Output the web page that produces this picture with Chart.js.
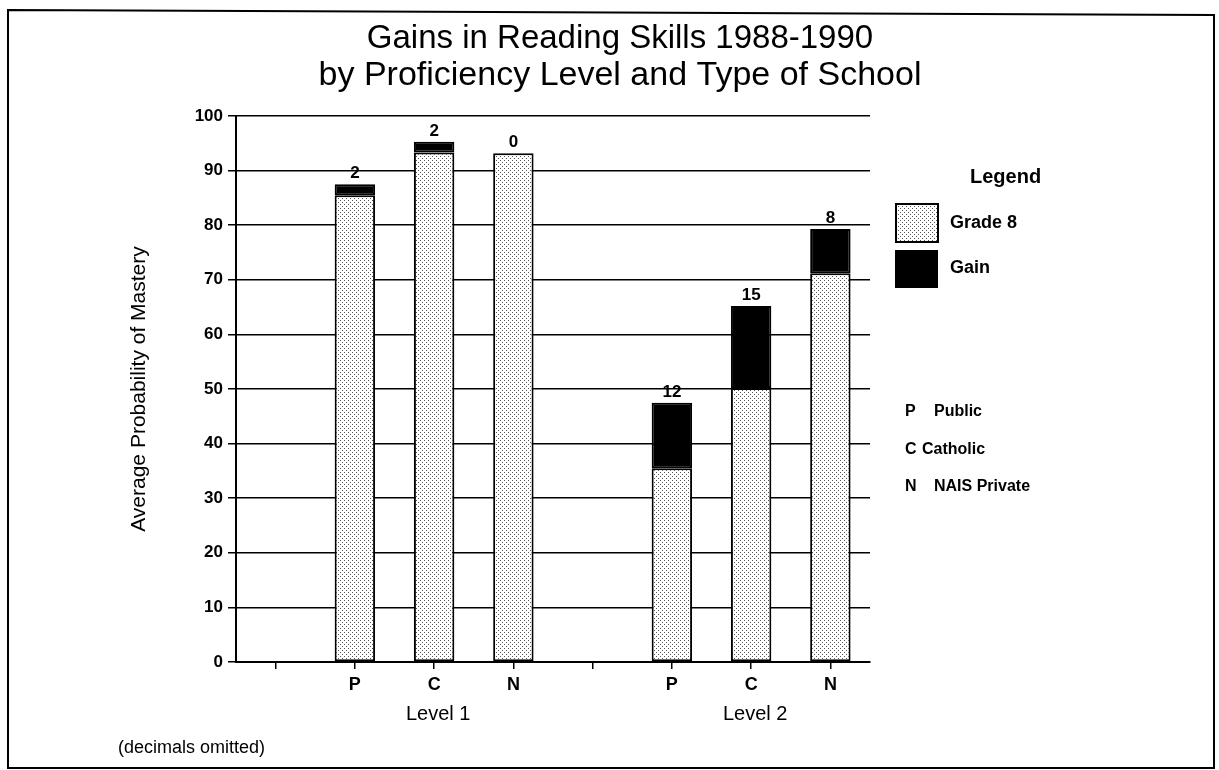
<!DOCTYPE html>
<html>
<head>
<meta charset="utf-8">
<script src="https://cdn.jsdelivr.net/npm/chart.js@4/dist/chart.umd.min.js"></script>
<style>
  html, body { margin: 0; background: #fff; }
</style>
</head>
<body>
<canvas id="chart" width="1219" height="770"></canvas>
<script>
// categories: two levels, each with an empty slot before it
const categories = ["", "P", "C", "N", "", "P", "C", "N"];
const levelNames = ["Level 1", "Level 2"];
const levelSlots = [2, 6];
const grade8 = [null, 85.5, 93.3, 93.2, null, 35.5, 50.2, 71.2];
const gain = [null, 2.0, 2.0, 0.0, null, 12.0, 15.0, 8.1];
const titleLines = ["Gains in Reading Skills 1988-1990", "by Proficiency Level and Type of School"];
const schoolKey = [["P", "Public"], ["C", "Catholic"], ["N", "NAIS Private"]];

const FONT = "'Liberation Sans', Arial, Helvetica, sans-serif";
const canvas = document.getElementById("chart");
const ctx = canvas.getContext("2d");

// stippled fill for the Grade 8 bars
function stipple() {
  const tile = document.createElement("canvas");
  tile.width = 4; tile.height = 4;
  const g = tile.getContext("2d");
  g.fillStyle = "#fff"; g.fillRect(0, 0, 4, 4);
  g.fillStyle = "#555";
  g.fillRect(0, 0, 1, 1); g.fillRect(2, 2, 1, 1);
  return ctx.createPattern(tile, "repeat");
}
const dots = stipple();

const extras = {
  id: "extras",
  beforeDraw(chart) {
    const c = chart.ctx;
    c.save();
    c.fillStyle = "#fff";
    c.fillRect(0, 0, chart.width, chart.height);
    // page frame
    c.strokeStyle = "#000"; c.lineWidth = 2;
    c.beginPath();
    c.moveTo(8, 10); c.lineTo(1214, 15); c.lineTo(1214, 768); c.lineTo(8, 768); c.closePath();
    c.stroke();
    c.restore();
  },
  afterDatasetsDraw(chart) {
    const c = chart.ctx;
    const x = chart.scales.x;
    const top = chart.getDatasetMeta(1).data;
    c.save();
    c.fillStyle = "#000";
    c.textAlign = "center";
    c.textBaseline = "alphabetic";
    c.font = "bold 17px " + FONT;
    gain.forEach((v, i) => {
      if (v === null) return;
      c.fillText(String(Math.round(v)), top[i].x, top[i].y - 6);
    });

    // title
    c.font = "33px " + FONT;
    c.textBaseline = "middle";
    c.fillText(titleLines[0], 620, 39);
    c.font = "34px " + FONT;
    c.fillText(titleLines[1], 620, 76);

    // level labels under the C of each group
    c.font = "20px " + FONT;
    levelSlots.forEach((s, k) => c.fillText(levelNames[k], x.getPixelForValue(s) + 4, 714));

    c.textAlign = "left";
    c.font = "18px " + FONT;
    c.fillText("(decimals omitted)", 118, 748);

    // legend
    c.font = "bold 20px " + FONT;
    c.fillText("Legend", 970, 177);
    c.lineWidth = 2; c.strokeStyle = "#000";
    c.fillStyle = dots; c.fillRect(896, 204, 42, 38); c.strokeRect(896, 204, 42, 38);
    c.fillStyle = "#000"; c.fillRect(895, 250, 43, 38);
    c.font = "bold 18px " + FONT;
    c.fillText("Grade 8", 950, 223);
    c.fillText("Gain", 950, 268);

    c.font = "bold 16px " + FONT;
    schoolKey.forEach(([k, name], i) => {
      const y = 412 + i * 37.5;
      c.fillText(k, 905, y);
      c.fillText(name, k === "C" ? 922 : 934, y);
    });
    c.restore();
  }
};

new Chart(ctx, {
  type: "bar",
  data: {
    labels: categories,
    datasets: [
      { label: "Grade 8", data: grade8, backgroundColor: dots, borderColor: "#000", borderWidth: 2, borderSkipped: false, barPercentage: 0.51, categoryPercentage: 1 },
      { label: "Gain", data: gain, backgroundColor: "#000", borderColor: "#000", borderWidth: 2, borderSkipped: false, barPercentage: 0.51, categoryPercentage: 1 }
    ]
  },
  options: {
    responsive: false,
    animation: false,
    devicePixelRatio: 1,
    layout: { padding: { left: 0, right: 349, top: 116, bottom: 0 } },
    plugins: { legend: { display: false }, tooltip: { enabled: false }, title: { display: false } },
    scales: {
      x: {
        stacked: true,
        afterFit(scale) { scale.height = 108; },
        grid: { drawOnChartArea: false, offset: false, color: "#000", lineWidth: 1.5, tickLength: 7 },
        border: { display: true, color: "#000", width: 2 },
        ticks: { color: "#000", font: { family: FONT, size: 18, weight: "bold" }, padding: 5, autoSkip: false, maxRotation: 0 }
      },
      y: {
        stacked: true,
        min: 0, max: 100,
        afterFit(scale) { scale.width = 236; },
        grid: { color: "#000", lineWidth: 1.5, tickLength: 8 },
        border: { display: true, color: "#000", width: 2 },
        ticks: { stepSize: 10, color: "#000", font: { family: FONT, size: 17, weight: "bold" }, padding: 5 },
        title: { display: true, text: "Average Probability of Mastery", color: "#000", font: { family: FONT, size: 21 }, padding: { top: 127, bottom: 0 } }
      }
    }
  },
  plugins: [extras]
});
</script>
</body>
</html>
